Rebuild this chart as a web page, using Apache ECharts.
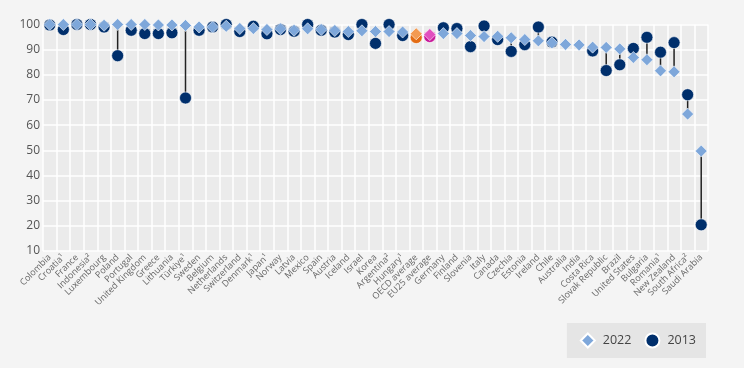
<!DOCTYPE html>
<html>
<head>
<meta charset="utf-8">
<script src="https://cdn.jsdelivr.net/npm/echarts@6/dist/echarts.min.js"></script>
<style>
html,body{margin:0;padding:0;background:#f4f4f4;}
#c{width:744px;height:368px;}
</style>
</head>
<body>
<div id="c"></div>
<script>
const categories = ["Colombia","Croatia¹","France","Indonesia²","Luxembourg","Poland","Portugal","United Kingdom","Greece","Lithuania","Türkiye¹","Sweden","Belgium","Netherlands","Switzerland","Denmark¹","Japan¹","Norway","Latvia","Mexico","Spain","Austria","Iceland","Israel","Korea","Argentina²","Hungary¹","OECD average","EU25 average","Germany","Finland","Slovenia","Italy","Canada","Czechia","Estonia","Ireland","Chile","Australia","India","Costa Rica","Slovak Republic","Brazil","United States","Bulgaria","Romania¹","New Zealand","South Africa²","Saudi Arabia"];
const values2022 = [100,100,100,100,99.7,100,100,100,99.8,99.8,99.6,99,99,99.3,98.4,98.4,98,98.3,97.7,98.3,98,97.6,97.2,97.5,97.2,97.2,97,96.3,96,96.4,96.4,95.6,95.2,95.3,94.7,94,93.5,92.7,92.1,91.9,91,90.9,90.3,86.9,86,81.6,81.2,64.4,49.7];
const values2013 = [99.8,98,100,100,99,87.6,97.7,96.4,96.4,96.7,70.8,97.7,99,100,97.2,99.3,96.3,98,97.3,100,97.7,97,96,100,92.5,100,95.6,94.8,95.2,98.7,98.4,91.2,99.4,94,89.3,92,99,93,null,null,89.5,81.7,84,90.5,94.9,89,92.8,72.1,20.4];
const yTicks = {min:10, max:100, interval:10};
const legendNames = ["2022","2013"];

const specialIdx = {27:{d:'#f39a52',c:'#e36c14'}, 28:{d:'#e24fbf',c:'#c8199a'}};
const d22 = values2022.map((v,i)=> specialIdx[i] ? {value:v, itemStyle:{color:specialIdx[i].d}} : v);
const d13 = values2013.map((v,i)=> v==null ? null : (specialIdx[i] ? {value:v, itemStyle:{color:specialIdx[i].c}} : v));

const chart = echarts.init(document.getElementById('c'));
chart.setOption({
  backgroundColor:'#f4f4f4',
  animation:false,
  textStyle:{fontFamily:'Open Sans'},
  grid:{left:43, right:36, top:24.5, bottom:117, show:true, backgroundColor:'#ebebeb', borderWidth:0},
  legend:{
    data:[{name:legendNames[0], icon:'diamond'},{name:legendNames[1], icon:'circle'}],
    right:38, top:323, backgroundColor:'#e5e5e5', padding:[9.5,10,9.5,13],
    itemWidth:14, itemHeight:14, itemGap:13,
    textStyle:{fontSize:12.5, color:'#444', fontFamily:'Open Sans', padding:[0,0,0,3]}
  },
  xAxis:{
    type:'category', data:categories, boundaryGap:true,
    axisLine:{show:false}, axisTick:{show:false},
    splitLine:{show:true, interval:0, lineStyle:{color:'#ffffff', width:1.5}},
    axisLabel:{interval:0, rotate:45, fontSize:9, color:'#666', margin:5, fontFamily:'Open Sans'}
  },
  yAxis:{
    type:'value', min:yTicks.min, max:yTicks.max, interval:yTicks.interval,
    axisLine:{show:false}, axisTick:{show:false},
    splitLine:{lineStyle:{color:'#ffffff', width:1.5}},
    axisLabel:{fontSize:12, color:'#555', margin:3, fontFamily:'Open Sans'}
  },
  series:[
    {
      type:'custom', name:'conn', silent:true, z:1, clip:false,
      data: values2022.map((v,i)=>[i, v, values2013[i]]),
      renderItem:function(params, api){
        const b = api.value(2);
        if (b == null || isNaN(b)) return null;
        const p1 = api.coord([api.value(0), api.value(1)]);
        const p2 = api.coord([api.value(0), b]);
        return {type:'line', shape:{x1:p1[0], y1:p1[1], x2:p2[0], y2:p2[1]}, style:{stroke:'#222', lineWidth:1.5}};
      }
    },
    {
      type:'scatter', name:legendNames[1], data:d13, symbol:'circle', symbolSize:12, z:2, clip:false,
      itemStyle:{color:'#002f6c', borderColor:'#ffffff', borderWidth:0.6, opacity:1}
    },
    {
      type:'scatter', name:legendNames[0], data:d22, symbol:'diamond', symbolSize:12, z:3, clip:false,
      itemStyle:{color:'#7ea7da', borderColor:'#ffffff', borderWidth:0.6, opacity:1}
    }
  ]
});
</script>
</body>
</html>
